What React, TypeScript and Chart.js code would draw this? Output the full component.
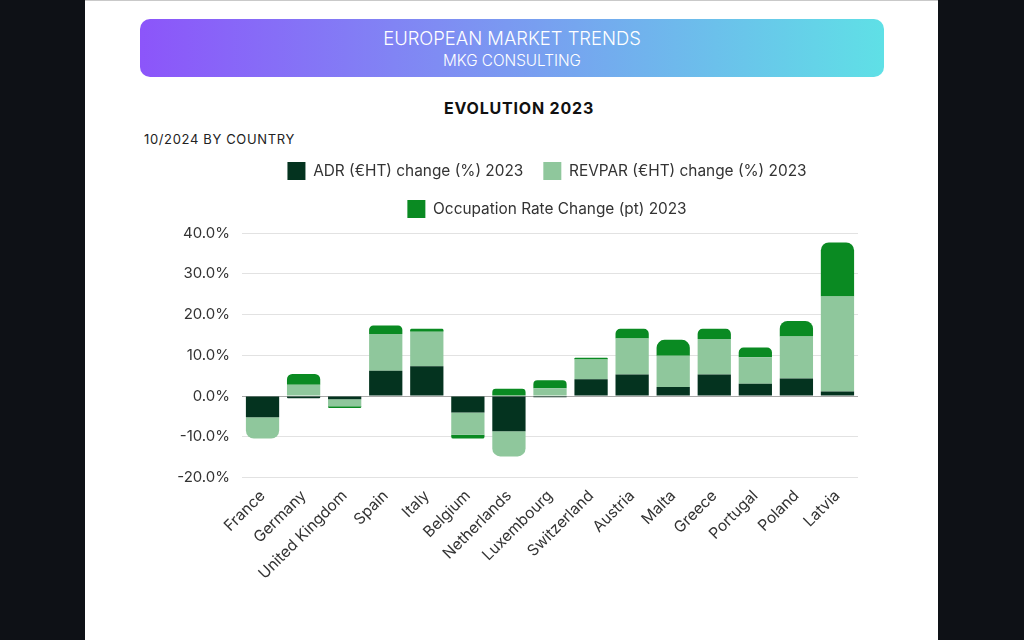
import React, { useEffect, useRef } from 'react';
import { Chart, registerables } from 'chart.js';

Chart.register(...registerables);

const categories = [
  'France', 'Germany', 'United Kingdom', 'Spain', 'Italy', 'Belgium', 'Netherlands',
  'Luxembourg', 'Switzerland', 'Austria', 'Malta', 'Greece', 'Portugal', 'Poland', 'Latvia',
];
const adrChange = [-5.2, -0.5, -0.8, 6.2, 7.3, -4.0, -8.6, -0.3, 4.1, 5.3, 2.2, 5.3, 3.0, 4.3, 1.1];
const revparChange = [-5.2, 2.8, -1.7, 9.0, 8.5, -5.5, -6.2, 1.9, 4.9, 8.8, 7.7, 8.7, 6.5, 10.3, 23.3];
const occupationChange = [0, 2.6, -0.4, 2.1, 0.7, -0.9, 1.8, 2.0, 0.4, 2.4, 3.9, 2.5, 2.4, 3.8, 13.3];
const seriesLabels = [
  'ADR (€HT) change (%) 2023',
  'REVPAR (€HT) change (%) 2023',
  'Occupation Rate Change (pt) 2023',
];
const seriesColors = ['#04331f', '#8fc79c', '#0a8a22'];
const yMin = -20;
const yMax = 40;
const yStep = 10;

const legendShift = {
  id: 'legendShift',
  afterLayout(chart: any) {
    const lg = chart.legend;
    if (lg) {
      lg.top -= 5;
      lg.bottom -= 5;
      lg.left += 29;
      lg.right += 29;
    }
  },
};

function BarChart() {
  const ref = useRef<HTMLCanvasElement | null>(null);
  useEffect(() => {
    if (!ref.current) return;
    const values = [adrChange, revparChange, occupationChange];
    const chart = new Chart(ref.current, {
      type: 'bar',
      data: {
        labels: categories,
        datasets: values.map((v, i) => ({
          label: seriesLabels[i],
          data: v,
          backgroundColor: seriesColors[i],
          borderRadius: 8,
          barPercentage: 0.9,
          categoryPercentage: 0.9,
        })),
      },
      options: {
        animation: false,
        responsive: true,
        maintainAspectRatio: false,
        layout: { padding: { left: 38, right: 26, top: 7, bottom: 16 } },
        plugins: {
          legend: {
            position: 'top',
            labels: {
              boxWidth: 18,
              boxHeight: 18,
              padding: 20,
              color: '#333',
              font: { family: 'Inter', size: 15.4 },
            },
          },
          tooltip: { enabled: false },
        },
        scales: {
          x: {
            stacked: true,
            grid: { display: false },
            border: { display: false },
            ticks: {
              minRotation: 45,
              maxRotation: 45,
              color: '#333',
              font: { family: 'Inter', size: 15.5 },
              padding: 1,
            },
          },
          y: {
            stacked: true,
            min: yMin,
            max: yMax,
            border: { display: false },
            afterFit: (axis: any) => { axis.width = 64; },
            grid: {
              drawTicks: false,
              color: (ctx: any) => (ctx.tick && ctx.tick.value === 0 ? '#a8a8a8' : '#e2e2e2'),
            },
            ticks: {
              stepSize: yStep,
              padding: 12,
              color: '#333',
              font: { family: 'Inter', size: 15 },
              callback: (v: any) => Number(v).toFixed(1) + '%',
            },
          },
        },
      },
      plugins: [legendShift],
    });
    return () => chart.destroy();
  }, []);
  return <canvas ref={ref} />;
}

export default function App() {
  return (
    <div style={{ position: 'fixed', inset: 0, background: '#0e1116', fontFamily: 'Inter, sans-serif' }}>
      <div style={{ position: 'absolute', left: 85, top: 0, width: 853, height: 640, background: '#fff', borderTop: '1px solid #c9c9c9', boxSizing: 'border-box' }} />
      <div
        style={{
          position: 'absolute', left: 140, top: 19, width: 744, height: 58, borderRadius: 10,
          background: 'linear-gradient(90deg, #8c55fa 0%, #7f8cf3 40%, #5fe0e6 100%)', color: '#fff', textAlign: 'center',
        }}
      >
        <div style={{ position: 'absolute', left: 0, right: 0, top: 8, fontSize: 18.4, lineHeight: '22px', fontWeight: 300 }}>
          EUROPEAN MARKET TRENDS
        </div>
        <div style={{ position: 'absolute', left: 0, right: 0, top: 33, fontSize: 15.3, lineHeight: '18px', fontWeight: 300 }}>
          MKG CONSULTING
        </div>
      </div>
      <div style={{ position: 'absolute', left: 419, width: 200, top: 98, textAlign: 'center', fontSize: 16, lineHeight: '20px', fontWeight: 700, letterSpacing: 0.8, color: '#111' }}>
        EVOLUTION 2023
      </div>
      <div style={{ position: 'absolute', left: 144, top: 131, fontSize: 13, lineHeight: '16px', letterSpacing: 0.65, color: '#222' }}>
        10/2024 BY COUNTRY
      </div>
      <div style={{ position: 'absolute', left: 140, top: 140, width: 744, height: 460 }}>
        <BarChart />
      </div>
    </div>
  );
}
